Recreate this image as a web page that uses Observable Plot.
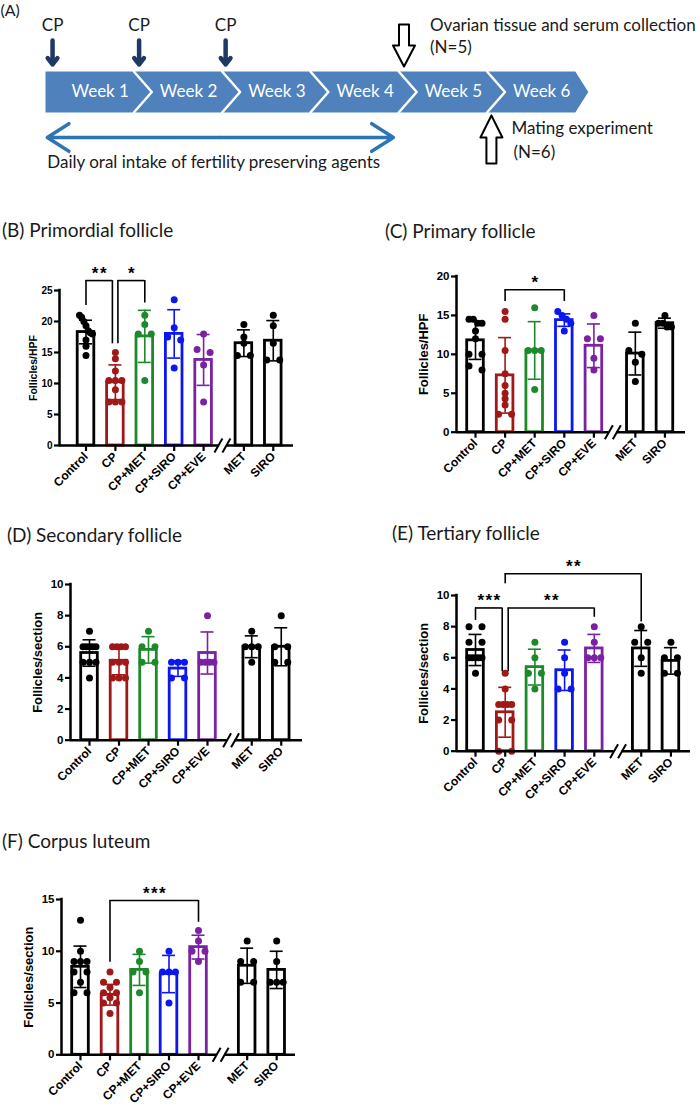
<!DOCTYPE html>
<html><head><meta charset="utf-8">
<script src="https://cdn.jsdelivr.net/npm/d3@7"></script>
<script src="https://cdn.jsdelivr.net/npm/@observablehq/plot@0.6"></script>
<style>
body{margin:0;background:#fff;}
#page{position:relative;width:700px;height:1107px;overflow:hidden;background:#fff;}
.title{position:absolute;font-family:Lato,"Open Sans",sans-serif;font-size:19px;line-height:19px;color:#1a1a1a;white-space:nowrap;}
</style></head>
<body><div id="page"></div>
<script>
// ---------------- DATA ----------------
// Panel A: timeline
const weekLabels = ["Week 1","Week 2","Week 3","Week 4","Week 5","Week 6"];
const cpDoseWeeks = [0.08, 1.06, 2.04];
const agentPeriodWeeks = [0.02, 3.94];
const collectionWeek = 4.06;
const matingWeek = 5.05;
const collectionText = ["Ovarian tissue and serum collection", "(N=5)"];
const matingText = ["Mating experiment", "(N=6)"];
const agentText = "Daily oral intake of fertility preserving agents";

// Panels B–F
const groups = ["Control","CP","CP+MET","CP+SIRO","CP+EVE","MET","SIRO"];
const groupColors = ["#000000","#a01818","#1c8a2a","#0c16ee","#7a22a2","#000000","#000000"];

const primordialValues = [[21,20.7,20,19.3,18.5,18.2,18,17,16,14.5],[15,14,12,10.5,10.5,10.5,9,7,7,7],[21,19.5,18,18,10.5],[23.5,19,17.5,17,12.5],[18,15.5,15,13,7],[19.5,17.5,16.5,14.5,14.5],[21,19.3,16.5,13.8,13.8]];
const primordialMean = [18.3,10.2,17.6,18.0,13.8,16.5,16.9];
const primordialSD = [1.9,2.8,4.2,3.9,4.1,2.15,3.25];

const primaryValues = [[14.5,14.5,14,14,13,12,10,10,8.5,8],[15.5,14.5,10.5,7.5,6,5,4.3,3.5,2.3,2.3],[16,10.5,10.5,10.5,5.5],[15.5,15,14.5,14,13],[15,12,12,9.5,8],[14,10.5,10,9,6.5],[15,14,14,13.5,13.5]];
const primaryMean = [11.8,7.3,10.5,14.4,11.1,10.1,14.0];
const primarySD = [2.45,4.85,3.7,0.8,2.8,2.75,0.65];

const secondaryValues = [[7,6,6,6,6,6,5,5,5,4],[6,6,6,6,5,5,5,4,4,4],[7,6,6,5,5],[5,5,5,4,4],[8,5,5,5,5],[7,6,6,6,5],[8,6,6,5,5]];
const secondaryMean = [5.6,5.1,5.8,4.6,5.6,6.0,6.0];
const secondarySD = [0.85,0.9,0.85,0.5,1.35,0.7,1.22];

const tertiaryValues = [[8,8,7,7,6,6,6,6,6,5],[5,4,3,3,3,3,2,2,0,0],[7,6,5,5,4],[7,6,5,4,4],[8,7,6,6,6],[8,7,7,6,5],[7,6,6,5,5]];
const tertiaryMean = [6.5,2.5,5.4,5.2,6.6,6.6,5.8];
const tertiarySD = [1.0,1.6,1.15,1.3,0.9,1.15,0.85];

const lutealValues = [[13,10,9,9,9,8,8,7,6,6],[8,7,7,6.5,6,6,5.5,5,5,4],[10,9,8,8,6],[10,8,8,8,5],[12,11,10,10,9],[11,9,9,7,7],[11,9,7,7,7]];
const lutealMean = [8.5,5.8,8.2,7.8,10.4,8.6,8.2];
const lutealSD = [2.0,1.0,1.5,1.8,1.15,1.7,1.8];

const primordialBrackets = [
  {from:"Control", to:"CP", top:26.6, fromY:22.6, toY:16.4, label:"**", toNudge:-3},
  {from:"CP", to:"CP+MET", top:26.6, fromY:16.4, toY:23.0, label:"*", fromNudge:2.5}
];
const primaryBrackets = [{from:"CP", to:"CP+SIRO", top:18.3, fromY:16.8, toY:16.8, label:"*"}];
const tertiaryBrackets = [
  {from:"Control", to:"CP", top:9.2, fromY:8.4, toY:5.1, label:"***", toNudge:-3},
  {from:"CP", to:"CP+EVE", top:9.2, fromY:5.1, toY:8.6, label:"**", fromNudge:3},
  {from:"CP", to:"MET", top:11.4, fromY:10.75, toY:8.3, label:"**"}
];
const lutealBrackets = [{from:"CP", to:"CP+EVE", top:14.9, fromY:8.95, toY:12.8, label:"***"}];

// ---------------- LAYOUT ----------------
const page = document.getElementById("page");
function place(el, left, top) {
  el.style.position = "absolute"; el.style.left = left + "px"; el.style.top = top + "px";
  page.appendChild(el);
}
function title(text, left, centerY) {
  const d = document.createElement("div"); d.className = "title"; d.textContent = text;
  d.style.left = left + "px"; d.style.top = (centerY - 10) + "px"; page.appendChild(d);
}

// ---------------- PANEL A ----------------
(function panelA() {
  const A = {xOrigin:45, weekPx:88.3, barTop:71, barBottom:112, notch:18, tip:13,
             cpLabelY:25, cpArrowTop:40, cpArrowTip:64, agentY:137, agentTextY:162,
             downTail:24, downHead:45, downTip:66, upTip:115, upHead:137, upTail:163,
             bodyHalf:5, headHalf:11, font:"Lato, 'Open Sans', sans-serif", fs:17};
  const wk = px => px / A.weekPx;
  const mid = (A.barTop + A.barBottom) / 2;
  const n = weekLabels.length;
  const chevron = [[0,A.barTop],[n,A.barTop],[n + wk(A.tip),mid],[n,A.barBottom],[0,A.barBottom]].map(([x,y]) => ({x,y}));
  const seps = d3.range(1, n).flatMap(k => [{k,x:k,y:A.barTop},{k,x:k + wk(A.notch),y:mid},{k,x:k,y:A.barBottom}]);
  const hollow = (id, c, tail, head, tip) => [
    [c - wk(A.bodyHalf), tail],[c + wk(A.bodyHalf), tail],[c + wk(A.bodyHalf), head],[c + wk(A.headHalf), head],
    [c, tip],[c - wk(A.headHalf), head],[c - wk(A.bodyHalf), head]].map(([x,y]) => ({id,x,y}));
  const hollowPts = [...hollow("down", collectionWeek, A.downTail, A.downHead, A.downTip),
                     ...hollow("up", matingWeek, A.upTail, A.upHead, A.upTip)];
  const agentMid = (agentPeriodWeeks[0] + agentPeriodWeeks[1]) / 2;
  const textX = collectionWeek + wk(26);
  const chart = Plot.plot({
    width:700, height:175, margin:0,
    x:{domain:[-A.xOrigin / A.weekPx, (700 - A.xOrigin) / A.weekPx], axis:null},
    y:{domain:[0,175], range:[0,175], axis:null},
    style:{background:"transparent", overflow:"visible", fontFamily:A.font},
    marks:[
      Plot.line(chevron, {x:"x", y:"y", fill:"#4f81bd", stroke:"none", curve:"linear-closed"}),
      Plot.line(seps, {x:"x", y:"y", z:"k", stroke:"white", strokeWidth:2.5}),
      Plot.text(weekLabels, {x:(d,i) => i + 0.5 + 0.12, y:mid, text:d => d, fill:"white", fontSize:A.fs}),
      Plot.arrow(cpDoseWeeks, {x1:d => d, x2:d => d, y1:A.cpArrowTop, y2:A.cpArrowTip, stroke:"#1f3864", strokeWidth:4.5, headLength:12, headAngle:75}),
      Plot.text(cpDoseWeeks, {x:d => d, y:A.cpLabelY, text:() => "CP", fill:"#1a1a1a", fontSize:A.fs}),
      Plot.line(hollowPts, {x:"x", y:"y", z:"id", fill:"white", stroke:"black", strokeWidth:2, curve:"linear-closed"}),
      Plot.arrow([agentPeriodWeeks[0], agentPeriodWeeks[1]], {x1:agentMid, x2:d => d, y1:A.agentY, y2:A.agentY, stroke:"#2e75b6", strokeWidth:3.5, headLength:11, headAngle:65}),
      Plot.text(collectionText, {x:textX, y:(d,i) => [25,47][i], text:d => d, textAnchor:"start", fill:"#1a1a1a", fontSize:A.fs}),
      Plot.text(matingText, {x:(d,i) => matingWeek + wk(i ? 22 : 20), y:(d,i) => [128,152][i], text:d => d, textAnchor:"start", fill:"#1a1a1a", fontSize:A.fs}),
      Plot.text([agentText], {x:agentPeriodWeeks[0], y:A.agentTextY, text:d => d, textAnchor:"start", fill:"#1a1a1a", fontSize:A.fs}),
      Plot.text(["(A)"], {x:-A.xOrigin / A.weekPx, y:10, text:d => d, textAnchor:"start", fill:"#1a1a1a", fontSize:16})
    ]
  });
  place(chart, 0, 0);
})();

// ---------------- BAR CHARTS ----------------
function barChart({values, mean, sd, L, brackets, yLabel}) {
  const ML = 52, MR = 10, MT = 50, MB = 72;
  const plotW = L.axisRight - L.axisLeft, plotH = L.zeroY - L.topY;
  const width = ML + plotW + MR, height = MT + plotH + MB;
  const ux = 1 / L.step, uy = L.ymax / plotH;
  const xDomain = [(L.axisLeft - L.firstBar) * ux, (L.axisRight - L.firstBar) * ux];
  const pos = groups.map((g, i) => i < 5 ? i : L.metIdx + (i - 5));
  const bars = groups.map((g, i) => ({x:pos[i], mean:mean[i], sd:sd[i], color:groupColors[i]}));
  const hw = 8.3 * ux, cap = 6.5 * ux;
  const dots = [];
  values.forEach((vals, i) => {
    const sorted = [...vals].sort((a, b) => b - a);
    let cl = [];
    const flush = () => {
      const m = cl.length;
      cl.forEach((v, j) => dots.push({x:pos[i] + (m > 1 ? (-1 + 2 * j / (m - 1)) * 6.5 * ux : 0), y:v, color:groupColors[i]}));
      cl = [];
    };
    sorted.forEach(v => { if (cl.length && (cl[cl.length - 1] - v) / uy > 5) flush(); cl.push(v); });
    flush();
  });
  const bx = (g, nudge) => pos[groups.indexOf(g)] + (nudge || 0) * ux;
  const legs = brackets.flatMap(b => [{x:bx(b.from, b.fromNudge), y1:b.fromY, y2:b.top}, {x:bx(b.to, b.toNudge), y1:b.toY, y2:b.top}]);
  const tops = brackets.map(b => ({x1:bx(b.from, b.fromNudge), x2:bx(b.to, b.toNudge), y:b.top, label:b.label.split("").join("\u200A")}));
  const bp = L.breakIdx;
  const axisSegs = [{x1:xDomain[0], x2:bp - 4 * ux}, {x1:bp + 4 * ux, x2:xDomain[1]}];
  const slashes = [-1, 1].map(s => ({x1:bp + (s * 4 - 4) * ux, x2:bp + (s * 4 + 4) * ux, y1:-7 * uy, y2:7 * uy}));
  const chart = Plot.plot({
    width, height, marginLeft:ML, marginRight:MR, marginTop:MT, marginBottom:MB,
    x:{domain:xDomain, axis:null},
    y:{domain:[0, L.ymax], axis:null},
    color:{type:"identity"},
    style:{background:"transparent", overflow:"visible", fontFamily:"'Liberation Sans', Arial, sans-serif", color:"black"},
    marks:[
      Plot.rect(bars, {x1:d => d.x - hw, x2:d => d.x + hw, y1:0, y2:"mean", fill:"white", stroke:"color", strokeWidth:2.8}),
      Plot.dot(dots, {x:"x", y:"y", r:3.5, fill:"color", stroke:"none"}),
      Plot.ruleX(bars, {x:"x", y1:d => Math.max(0, d.mean - d.sd), y2:d => d.mean + d.sd, stroke:"color", strokeWidth:1.6}),
      Plot.ruleY(bars, {y:d => d.mean + d.sd, x1:d => d.x - cap, x2:d => d.x + cap, stroke:"color", strokeWidth:1.6}),
      Plot.ruleY(bars, {y:d => Math.max(0, d.mean - d.sd), x1:d => d.x - cap, x2:d => d.x + cap, stroke:"color", strokeWidth:1.6}),
      Plot.ruleX([xDomain[0]], {y1:0, y2:L.ymax, strokeWidth:2.5, strokeLinecap:"square"}),
      Plot.ruleY(axisSegs, {y:0, x1:"x1", x2:"x2", strokeWidth:2.5}),
      Plot.link(slashes, {x1:"x1", x2:"x2", y1:"y1", y2:"y2", strokeWidth:2}),
      Plot.axisY({ticks:L.yTicks, tickSize:5, strokeWidth:2.2, tickPadding:2, fontSize:L.tickFont, fontWeight:"bold", label:null}),
      Plot.axisX({ticks:pos, tickFormat:d => groups[pos.indexOf(d)], tickRotate:-45, tickSize:6, strokeWidth:2.2, tickPadding:3, fontSize:12, fontWeight:"bold", label:null}),
      Plot.text([yLabel], {frameAnchor:"left", textAnchor:"middle", dx:-L.labelOffset, rotate:-90, text:d => d, fontSize:L.labelFont, fontWeight:"bold"}),
      Plot.ruleX(legs, {x:"x", y1:"y1", y2:"y2", strokeWidth:1.6}),
      Plot.ruleY(tops, {y:"y", x1:"x1", x2:"x2", strokeWidth:1.6}),
      Plot.text(tops, {x:d => (d.x1 + d.x2) / 2, y:"y", text:"label", dy:-7, fontSize:17, fontWeight:"bold"})
    ]
  });
  place(chart, L.axisLeft - ML, L.topY - MT);
}

barChart({values:primordialValues, mean:primordialMean, sd:primordialSD, brackets:primordialBrackets, yLabel:"Follicles/HPF",
  L:{axisLeft:59, axisRight:293, firstBar:85.5, step:29.4, metIdx:5.37, breakIdx:4.64, zeroY:445, topY:290, ymax:25, yTicks:[0,5,10,15,20,25], tickFont:10, labelFont:10.5, labelOffset:26}});
barChart({values:primaryValues, mean:primaryMean, sd:primarySD, brackets:primaryBrackets, yLabel:"Follicles/HPF",
  L:{axisLeft:456, axisRight:685, firstBar:475, step:29.6, metIdx:5.4, breakIdx:4.64, zeroY:431.7, topY:276, ymax:20, yTicks:[0,5,10,15,20], tickFont:11.5, labelFont:13, labelOffset:33}});
barChart({values:secondaryValues, mean:secondaryMean, sd:secondarySD, brackets:[], yLabel:"Follicles/section",
  L:{axisLeft:70, axisRight:302, firstBar:89, step:29.5, metIdx:5.5, breakIdx:4.8, zeroY:740, topY:584.3, ymax:10, yTicks:[0,2,4,6,8,10], tickFont:11.5, labelFont:13, labelOffset:33}});
barChart({values:tertiaryValues, mean:tertiaryMean, sd:tertiarySD, brackets:tertiaryBrackets, yLabel:"Follicles/section",
  L:{axisLeft:456, axisRight:690, firstBar:475, step:29.7, metIdx:5.58, breakIdx:4.8, zeroY:750.7, topY:595, ymax:10, yTicks:[0,2,4,6,8,10], tickFont:11.5, labelFont:13, labelOffset:33}});
barChart({values:lutealValues, mean:lutealMean, sd:lutealSD, brackets:lutealBrackets, yLabel:"Follicles/section",
  L:{axisLeft:61, axisRight:295, firstBar:80, step:29.5, metIdx:5.65, breakIdx:4.75, zeroY:1054.3, topY:899, ymax:15, yTicks:[0,5,10,15], tickFont:11.5, labelFont:13, labelOffset:33}});

title("(B) Primordial follicle", 2, 230);
title("(C) Primary follicle", 385, 231);
title("(D) Secondary follicle", 7, 535);
title("(E) Tertiary follicle", 392, 533);
title("(F) Corpus luteum", 2, 841);
</script>
</body></html>
